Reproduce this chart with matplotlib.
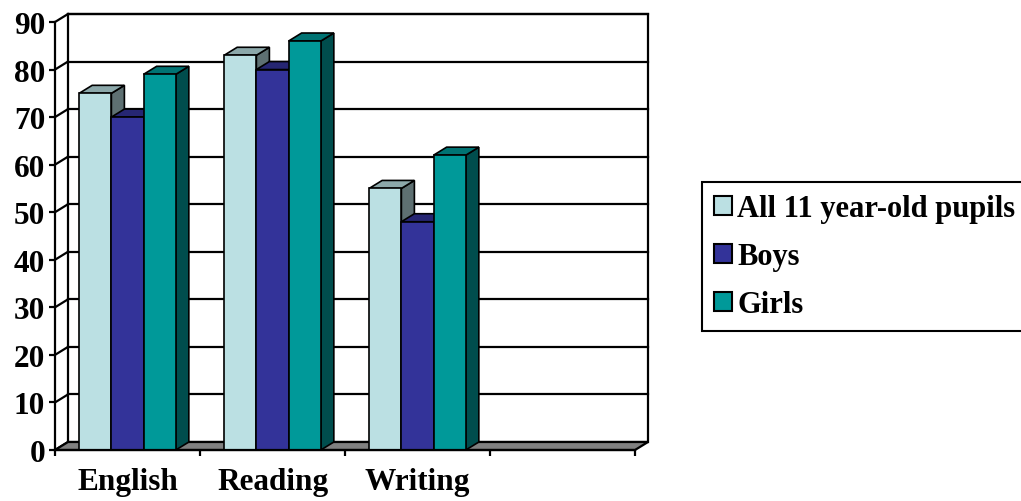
import matplotlib
matplotlib.use('Agg')
import matplotlib.pyplot as plt
from matplotlib.patches import Polygon, Patch

# data
categories = ['English', 'Reading', 'Writing', '']
series_names = ['All 11 year-old pupils', 'Boys', 'Girls']
all_pupils = [75, 83, 55]
boys = [70, 80, 48]
girls = [79, 86, 62]
y_ticks = [0, 10, 20, 30, 40, 50, 60, 70, 80, 90]

# face colours: front, top, side
face_colors = ['#BBE0E3', '#333399', '#009999']
top_colors = ['#8CA8AA', '#262673', '#007373']
side_colors = ['#5E7072', '#1A1A4D', '#004D4D']

plt.rcParams['font.family'] = ['Liberation Serif', 'DejaVu Serif']
plt.rcParams['font.weight'] = 'bold'
FS = 22.5
FS_LEG = 22

fig = plt.figure(figsize=(10.21, 5.02), dpi=100)
ax = fig.add_axes([55 / 1021, 51 / 502, 580 / 1021, 428 / 502])
ax.set_xlim(0, len(categories))
ax.set_ylim(0, 90)

# oblique depth offset in data units
DX = 13 / 145
DY = 8 / 4.75
LW = 1.6
n_cat = len(categories)


def poly(pts, fc, z, lw=LW):
    ax.add_patch(Polygon(pts, closed=True, facecolor=fc, edgecolor='black',
                         linewidth=lw, zorder=z, clip_on=False, joinstyle='miter'))


# back wall
poly([(DX, DY), (n_cat + DX, DY), (n_cat + DX, 90 + DY), (DX, 90 + DY)], 'white', 1)
for v in y_ticks[1:]:
    ax.plot([DX, n_cat + DX], [v + DY, v + DY], color='black', lw=LW, zorder=1.5, clip_on=False)
# left wall lines
for v in y_ticks:
    ax.plot([0, DX], [v, v + DY], color='black', lw=LW, zorder=1.5, clip_on=False)
# floor
poly([(0, 0), (n_cat, 0), (n_cat + DX, DY), (DX, DY)], '#808080', 2)

# bars
w = 1 / (3 + 1.5)
series = [all_pupils, boys, girls]
for i in range(len(all_pupils)):
    for s, vals in enumerate(series):
        x0 = i + 0.75 * w + s * w
        x1 = x0 + w
        h = vals[i]
        z = 3 + i * 3 + s
        poly([(x1, 0), (x1 + DX, DY), (x1 + DX, h + DY), (x1, h)], side_colors[s], z, lw=1.2)
        poly([(x0, h), (x1, h), (x1 + DX, h + DY), (x0 + DX, h + DY)], top_colors[s], z, lw=1.2)
        poly([(x0, 0), (x1, 0), (x1, h), (x0, h)], face_colors[s], z, lw=1.2)

# axes styling
for side in ['top', 'right']:
    ax.spines[side].set_visible(False)
for side in ['left', 'bottom']:
    ax.spines[side].set_linewidth(LW)
    ax.spines[side].set_zorder(20)
ax.set_facecolor('none')
ax.set_yticks(y_ticks)
ax.set_yticklabels([str(v) for v in y_ticks], fontsize=FS, fontweight='bold')
ax.set_xticks(range(n_cat + 1))
ax.set_xticklabels([])
ax.set_xticks([i + 0.5 for i in range(n_cat)], minor=True)
ax.set_xticklabels(categories, minor=True, fontsize=FS, fontweight='bold')
ax.tick_params(axis='both', which='major', length=4, width=LW, direction='out')
ax.tick_params(axis='y', pad=3)
ax.tick_params(axis='x', which='minor', length=0, pad=12)

# legend
handles = [Patch(facecolor=c, edgecolor='black', linewidth=1.5) for c in face_colors]
leg = fig.legend(handles, series_names, loc='upper left',
                 bbox_to_anchor=(702 / 1021, 1 - 183 / 502),
                 prop={'weight': 'bold', 'size': FS_LEG},
                 frameon=True, fancybox=False, framealpha=1,
                 handlelength=0.58, handleheight=0.58, handletextpad=0.18,
                 labelspacing=0.62, borderpad=0.4, borderaxespad=0)
leg.get_frame().set_edgecolor('black')
leg.get_frame().set_linewidth(1.5)

fig.savefig('out.png', dpi=100)
